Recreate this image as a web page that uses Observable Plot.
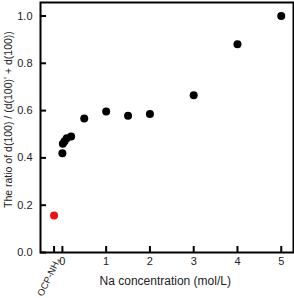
<!DOCTYPE html>
<html><head><meta charset="utf-8">
<script src="https://cdn.jsdelivr.net/npm/d3@7"></script>
<script src="https://cdn.jsdelivr.net/npm/@observablehq/plot@0.6"></script>
<style>body{margin:0;background:#fff}</style>
</head><body><div id="chart"></div>
<script>
const naConc = [0, 0.01, 0.05, 0.1, 0.2, 0.5, 1.0, 1.5, 2.0, 3.0, 4.0, 5.0];
const ratio = [0.42, 0.46, 0.47, 0.483, 0.49, 0.567, 0.596, 0.578, 0.586, 0.665, 0.88, 1.0];
const refX = [-0.19];
const refRatio = [0.156];
const refLabel = ["OCP-NH\u2084"];
const xTicks = [0, 1, 2, 3, 4, 5];
const yTicks = [0, 0.2, 0.4, 0.6, 0.8, 1.0];
const xTitle = "Na concentration (mol/L)";
const yTitle = "The ratio of d(100) / (d(100)' + d(100))";

const W = 294, H = 298, mL = 40, mR = 1, mT = 2, mB = 46;
const na = naConc.map((x, i) => ({x, y: ratio[i]}));
const ref = refX.map((x, i) => ({x, y: refRatio[i], label: refLabel[i]}));
const font = "'Liberation Sans', Arial, sans-serif";

const chart = Plot.plot({
  width: W, height: H,
  marginLeft: mL, marginRight: mR, marginTop: mT, marginBottom: mB,
  style: {fontFamily: font, fontSize: "11px", color: "#222", background: "#fff"},
  x: {domain: [-0.5, 5.28]},
  y: {domain: [0, 1.057]},
  marks: [
    Plot.axisY(yTicks, {tickSize: 0, tickPadding: 8, tickFormat: d3.format(".1f"), label: null, fontSize: 11}),
    Plot.axisX(xTicks, {tickSize: 0, tickPadding: 5, tickFormat: d3.format("d"), label: null, fontSize: 11}),
    Plot.tickY(yTicks, {y: d => d, stroke: "black", strokeWidth: 2, insetRight: W - mL - mR - 6}),
    Plot.tickX(xTicks.concat(refX), {x: d => d, stroke: "black", strokeWidth: 2, insetTop: H - mT - mB - 6}),
    Plot.text(ref, {x: "x", text: "label", frameAnchor: "bottom", rotate: -64, textAnchor: "end", lineAnchor: "middle", dy: 6, dx: 4, fontSize: 9.5, fill: "#222"}),
    Plot.text([xTitle], {frameAnchor: "bottom", lineAnchor: "middle", dy: 29, x: [2.35], fontSize: 12, fill: "#222"}),
    Plot.text([yTitle], {frameAnchor: "left", y: [0.562], textAnchor: "middle", lineAnchor: "middle", dx: -32, rotate: -90, fontSize: 10.5, fill: "#222"}),
    Plot.dot(na, {x: "x", y: "y", r: 4, fill: "black"}),
    Plot.dot(ref, {x: "x", y: "y", r: 4, fill: "#ee1111"}),
    Plot.frame({stroke: "black", strokeWidth: 2})
  ]
});
document.getElementById("chart").appendChild(chart);
</script>
</body></html>
